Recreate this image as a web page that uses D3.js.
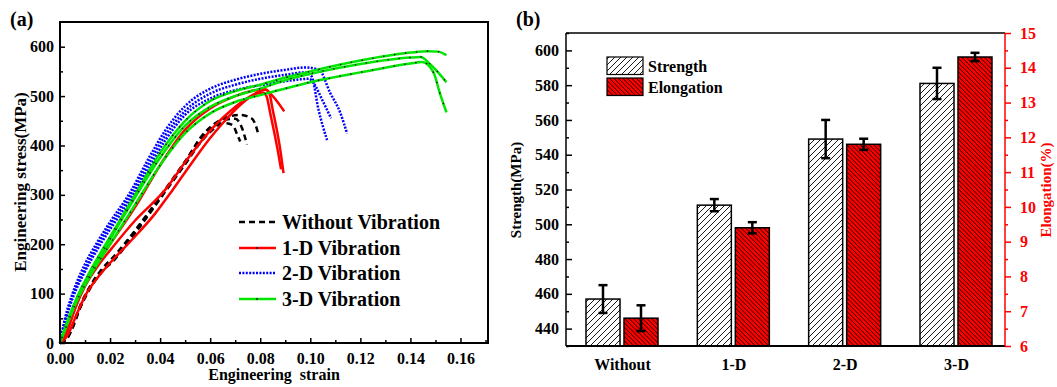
<!DOCTYPE html>
<meta charset="utf-8">
<script src="https://cdn.jsdelivr.net/npm/d3@7"></script>
<style>
  body { margin: 0; background: #fff; }
  text { font-family: "Liberation Serif", "Times New Roman", serif; font-weight: bold; }
</style>
<svg id="chart" width="1057" height="387"></svg>
<script>
// ---- panel (a): engineering stress-strain curves, [strain, stress(MPa)] ----
var without1 = [[0,0],[0.003,10],[0.005,30],[0.008,70],[0.012,110],[0.016,140],[0.022,170],[0.03,222],[0.04,292],[0.05,365],[0.056,415],[0.062,445],[0.068,459],[0.072,462],[0.0765,455],[0.0785,436],[0.0793,421]];
var without2 = [[0,0],[0.003,12],[0.005,35],[0.008,75],[0.012,115],[0.016,145],[0.022,178],[0.03,228],[0.04,297],[0.05,368],[0.056,412],[0.062,440],[0.067,453],[0.07,454],[0.0725,438],[0.0747,402]];
var without3 = [[0,0],[0.003,12],[0.005,32],[0.008,72],[0.012,112],[0.016,140],[0.022,172],[0.03,225],[0.04,294],[0.05,362],[0.056,405],[0.061,432],[0.066,445],[0.069,441],[0.0708,422],[0.072,408]];

var oneD1 = [[0,0],[0.003,30],[0.008,95],[0.012,140],[0.02,200],[0.03,275],[0.04,360],[0.05,432],[0.06,475],[0.07,500],[0.078,512],[0.082,513],[0.085,500],[0.0896,469]];
var oneD2 = [[0,0],[0.003,15],[0.006,50],[0.01,95],[0.015,132],[0.02,162],[0.028,205],[0.038,262],[0.045,310],[0.052,360],[0.06,415],[0.065,445],[0.072,482],[0.078,505],[0.082,514],[0.0835,508],[0.085,472],[0.0882,385],[0.0893,344]];
var oneD3 = [[0,0],[0.003,25],[0.006,70],[0.01,115],[0.015,155],[0.022,200],[0.03,248],[0.042,310],[0.0507,371],[0.06,430],[0.07,478],[0.077,502],[0.081,507],[0.0825,500],[0.084,465],[0.087,390],[0.0883,352]];

var twoD1 = [[0,0],[0.002,50],[0.005,100],[0.01,160],[0.015,205],[0.02,245],[0.028,305],[0.035,370],[0.042,430],[0.05,480],[0.06,515],[0.07,533],[0.08,545],[0.09,553],[0.098,558],[0.1035,553],[0.108,506],[0.112,466],[0.1147,424]];
var twoD2 = [[0,0],[0.002,45],[0.005,95],[0.01,150],[0.015,198],[0.02,238],[0.028,298],[0.035,360],[0.042,420],[0.05,470],[0.06,505],[0.07,523],[0.08,535],[0.09,543],[0.098,548],[0.1005,540],[0.1033,472],[0.1067,411]];
var twoD3 = [[0,0],[0.002,42],[0.005,90],[0.01,145],[0.015,190],[0.02,230],[0.028,290],[0.035,350],[0.042,410],[0.05,462],[0.06,495],[0.07,512],[0.08,522],[0.09,530],[0.0995,535],[0.1015,525],[0.1047,493],[0.1083,455]];

var threeD1 = [[0,0],[0.003,45],[0.007,95],[0.012,145],[0.02,215],[0.03,300],[0.04,385],[0.05,450],[0.06,490],[0.07,510],[0.08,523],[0.092,540],[0.1,550],[0.12,572],[0.14,588],[0.147,591],[0.151,590],[0.1544,583]];
var threeD2 = [[0,0],[0.003,40],[0.007,90],[0.012,140],[0.02,210],[0.03,295],[0.04,375],[0.05,440],[0.06,478],[0.07,500],[0.08,515],[0.092,535],[0.1,545],[0.12,565],[0.14,578],[0.144,579],[0.148,564],[0.1544,528]];
var threeD3 = [[0,0],[0.003,40],[0.007,88],[0.012,135],[0.02,200],[0.03,280],[0.04,360],[0.05,425],[0.06,465],[0.07,488],[0.08,502],[0.092,518],[0.1,528],[0.12,548],[0.14,566],[0.1447,569],[0.1493,547],[0.1517,507],[0.1544,467]];

var seriesNames = ["Without Vibration", "1-D Vibration", "2-D Vibration", "3-D Vibration"];
var strainTicks = [0, 0.02, 0.04, 0.06, 0.08, 0.10, 0.12, 0.14, 0.16];
var stressTicks = [0, 100, 200, 300, 400, 500, 600];

// ---- panel (b): bar chart ----
var categories = ["Without", "1-D", "2-D", "3-D"];
var strength = [457, 511, 549, 581];
var strengthErr = [8, 3.5, 11, 9];
var elongation = [6.8, 9.4, 11.8, 14.31];
var elongationErr = [0.37, 0.16, 0.16, 0.12];
var strengthTicks = [440, 460, 480, 500, 520, 540, 560, 580, 600];
var elongTicks = [6, 7, 8, 9, 10, 11, 12, 13, 14, 15];

var svg = d3.select("#chart");
var defs = svg.append("defs");

// hatch patterns
var p1 = defs.append("pattern").attr("id", "hatchS").attr("patternUnits", "userSpaceOnUse")
    .attr("width", 6).attr("height", 6);
p1.append("rect").attr("width", 6).attr("height", 6).attr("fill", "#fff");
p1.append("path").attr("d", "M0,6 L6,0 M-1.5,1.5 L1.5,-1.5 M4.5,7.5 L7.5,4.5")
    .attr("stroke", "#000").attr("stroke-width", 0.9);
var p2 = defs.append("pattern").attr("id", "hatchE").attr("patternUnits", "userSpaceOnUse")
    .attr("width", 4.5).attr("height", 4.5);
p2.append("rect").attr("width", 4.5).attr("height", 4.5).attr("fill", "#ff0000");
p2.append("path").attr("d", "M0,0 L4.5,4.5 M-1,3.5 L1,5.5 M3.5,-1 L5.5,1")
    .attr("stroke", "#000").attr("stroke-width", 0.9);

// ================= panel (a) =================
var x = d3.scaleLinear().domain([0, 0.171]).range([60, 488]);
var y = d3.scaleLinear().domain([0, 650]).range([343, 22]);

var gA = svg.append("g");

var line = d3.line()
    .x(function(d) { return x(d[0]); })
    .y(function(d) { return y(d[1]); })
    .curve(d3.curveMonotoneX);

var styles = [
  {color: "#000", dash: "6,4", curves: [without1, without2, without3]},
  {color: "#ff0000", dash: null, curves: [oneD1, oneD2, oneD3]},
  {color: "#0000ff", dash: "2,1.4", curves: [twoD1, twoD2, twoD3]},
  {color: "#00e600", dash: null, curves: [threeD1, threeD2, threeD3], dots: true}
];

styles.forEach(function(s) {
  s.curves.forEach(function(c) {
    var p = gA.append("path")
        .datum(c)
        .attr("d", line)
        .attr("fill", "none")
        .attr("stroke", s.color)
        .attr("stroke-width", 2.5)
        .attr("stroke-dasharray", s.dash);
    if (s.dots) {
      var node = p.node(), len = node.getTotalLength();
      for (var l = 6; l < len; l += 11) {
        var pt = node.getPointAtLength(l);
        gA.append("circle").attr("cx", pt.x).attr("cy", pt.y).attr("r", 0.8).attr("fill", "#000");
      }
    }
  });
});

// frame
gA.append("rect").attr("x", 60).attr("y", 22).attr("width", 428).attr("height", 321)
    .attr("fill", "none").attr("stroke", "#000").attr("stroke-width", 2);

// axes (ticks inward)
var xAxis = gA.append("g").attr("transform", "translate(0,343)")
    .call(d3.axisBottom(x).tickValues(strainTicks).tickFormat(d3.format(".2f"))
      .tickSizeInner(-5).tickSizeOuter(0).tickPadding(6));
gA.append("g").attr("transform", "translate(0,343)")
    .call(d3.axisBottom(x).tickValues(d3.range(0.01, 0.171, 0.02)).tickFormat("")
      .tickSizeInner(-3).tickSizeOuter(0));
var yAxis = gA.append("g").attr("transform", "translate(60,0)")
    .call(d3.axisLeft(y).tickValues(stressTicks).tickSizeInner(-5).tickSizeOuter(0).tickPadding(6));
gA.append("g").attr("transform", "translate(60,0)")
    .call(d3.axisLeft(y).tickValues(d3.range(50, 650, 100)).tickFormat("").tickSizeInner(-3).tickSizeOuter(0));

gA.selectAll(".domain").remove();
gA.selectAll(".tick line").attr("stroke", "#000").attr("stroke-width", 1.5);
gA.selectAll(".tick text").attr("font-size", 16).attr("font-family", "Liberation Serif")
    .attr("font-weight", "bold").attr("fill", "#000");
xAxis.selectAll(".tick text").attr("dy", "0.95em");

gA.append("text").attr("x", 10).attr("y", 26).attr("font-size", 20).text("(a)");
gA.append("text").attr("transform", "translate(26,182) rotate(-90)")
    .attr("text-anchor", "middle").attr("font-size", 17).text("Engineering stress(MPa)");
gA.append("text").attr("x", 274).attr("y", 380).attr("text-anchor", "middle")
    .attr("font-size", 16).style("white-space", "pre").text("Engineering  strain");

// legend (a)
var legY = [222, 248, 273, 299];
styles.forEach(function(s, i) {
  gA.append("line").attr("x1", 239).attr("x2", 276).attr("y1", legY[i]).attr("y2", legY[i])
      .attr("stroke", s.color).attr("stroke-width", 2.5).attr("stroke-dasharray", s.dash);
  if (i == 1 || i == 3) {
    gA.append("circle").attr("cx", 257).attr("cy", legY[i]).attr("r", 0.9).attr("fill", "#000");
  }
  gA.append("text").attr("x", 282).attr("y", legY[i]).attr("dy", "0.35em")
      .attr("font-size", 20).text(seriesNames[i]);
});

// ================= panel (b) =================
var xb = d3.scalePoint().domain(categories).range([622, 956]);
var ys = d3.scaleLinear().domain([430, 610]).range([346, 33]);
var ye = d3.scaleLinear().domain([6, 15]).range([346, 33]);
var gB = svg.append("g");

var barW = 34;
gB.selectAll(".barS").data(categories).enter().append("rect")
    .attr("x", function(d) { return xb(d) - barW - 2; })
    .attr("y", function(d, i) { return ys(strength[i]); })
    .attr("width", barW)
    .attr("height", function(d, i) { return 346 - ys(strength[i]); })
    .attr("fill", "url(#hatchS)").attr("stroke", "#000").attr("stroke-width", 1.5);
gB.selectAll(".barE").data(categories).enter().append("rect")
    .attr("x", function(d) { return xb(d) + 2; })
    .attr("y", function(d, i) { return ye(elongation[i]); })
    .attr("width", barW)
    .attr("height", function(d, i) { return 346 - ye(elongation[i]); })
    .attr("fill", "url(#hatchE)").attr("stroke", "#000").attr("stroke-width", 1.5);

function errBar(cx, yTop, yBot) {
  gB.append("line").attr("x1", cx).attr("x2", cx).attr("y1", yTop).attr("y2", yBot)
      .attr("stroke", "#000").attr("stroke-width", 2.5);
  [yTop, yBot].forEach(function(yy) {
    gB.append("line").attr("x1", cx - 4.5).attr("x2", cx + 4.5).attr("y1", yy).attr("y2", yy)
        .attr("stroke", "#000").attr("stroke-width", 2.5);
  });
}
categories.forEach(function(c, i) {
  errBar(xb(c) - barW / 2 - 2, ys(strength[i] + strengthErr[i]), ys(strength[i] - strengthErr[i]));
  errBar(xb(c) + barW / 2 + 2, ye(elongation[i] + elongationErr[i]), ye(elongation[i] - elongationErr[i]));
});

// axes
var yl = gB.append("g").attr("transform", "translate(566,0)")
    .call(d3.axisLeft(ys).tickValues(strengthTicks).tickSizeInner(-6).tickSizeOuter(0).tickPadding(7));
gB.append("g").attr("transform", "translate(566,0)")
    .call(d3.axisLeft(ys).tickValues(d3.range(430, 611, 20)).tickFormat("").tickSizeInner(-3).tickSizeOuter(0));
var yr = gB.append("g").attr("transform", "translate(1005,0)")
    .call(d3.axisRight(ye).tickValues(elongTicks).tickSizeInner(6).tickSizeOuter(0).tickPadding(9));
var yr2 = gB.append("g").attr("transform", "translate(1005,0)")
    .call(d3.axisRight(ye).tickValues(d3.range(6.5, 15, 1)).tickFormat("").tickSizeInner(3).tickSizeOuter(0));
var xbAxis = gB.append("g").attr("transform", "translate(0,346)")
    .call(d3.axisBottom(xb).tickSize(0).tickPadding(10));

gB.selectAll(".domain").remove();
gB.selectAll(".tick line").attr("stroke", "#000").attr("stroke-width", 1.5);
yr.selectAll(".tick line").attr("stroke", "#ff0000");
yr2.selectAll(".tick line").attr("stroke", "#ff0000");
gB.selectAll(".tick text").attr("font-size", 16).attr("font-family", "Liberation Serif")
    .attr("font-weight", "bold").attr("fill", "#000");
yr.selectAll(".tick text").attr("fill", "#ff0000");
xbAxis.selectAll(".tick text").attr("dy", "0.9em");

// frame lines
gB.append("line").attr("x1", 566).attr("x2", 1005).attr("y1", 33).attr("y2", 33).attr("stroke", "#000").attr("stroke-width", 1.5);
gB.append("line").attr("x1", 566).attr("x2", 1005).attr("y1", 346).attr("y2", 346).attr("stroke", "#000").attr("stroke-width", 1.8);
gB.append("line").attr("x1", 566).attr("x2", 566).attr("y1", 33).attr("y2", 346).attr("stroke", "#000").attr("stroke-width", 1.5);
gB.append("line").attr("x1", 1005).attr("x2", 1005).attr("y1", 33).attr("y2", 346).attr("stroke", "#ff0000").attr("stroke-width", 1.5);

gB.append("text").attr("x", 516).attr("y", 26).attr("font-size", 20).text("(b)");
gB.append("text").attr("transform", "translate(521,190) rotate(-90)")
    .attr("text-anchor", "middle").attr("font-size", 15).text("Strength(MPa)");
gB.append("text").attr("transform", "translate(1051,190) rotate(-90)")
    .attr("text-anchor", "middle").attr("font-size", 15).attr("fill", "#ff0000").text("Elongation(%)");

// legend (b)
var legB = [{fill: "url(#hatchS)", label: "Strength", y: 57}, {fill: "url(#hatchE)", label: "Elongation", y: 78}];
legB.forEach(function(l) {
  gB.append("rect").attr("x", 607).attr("y", l.y).attr("width", 36).attr("height", 17.5)
      .attr("fill", l.fill).attr("stroke", "#000").attr("stroke-width", 1.2);
  gB.append("text").attr("x", 648).attr("y", l.y + 9).attr("dy", "0.35em")
      .attr("font-size", 16).text(l.label);
});
</script>
